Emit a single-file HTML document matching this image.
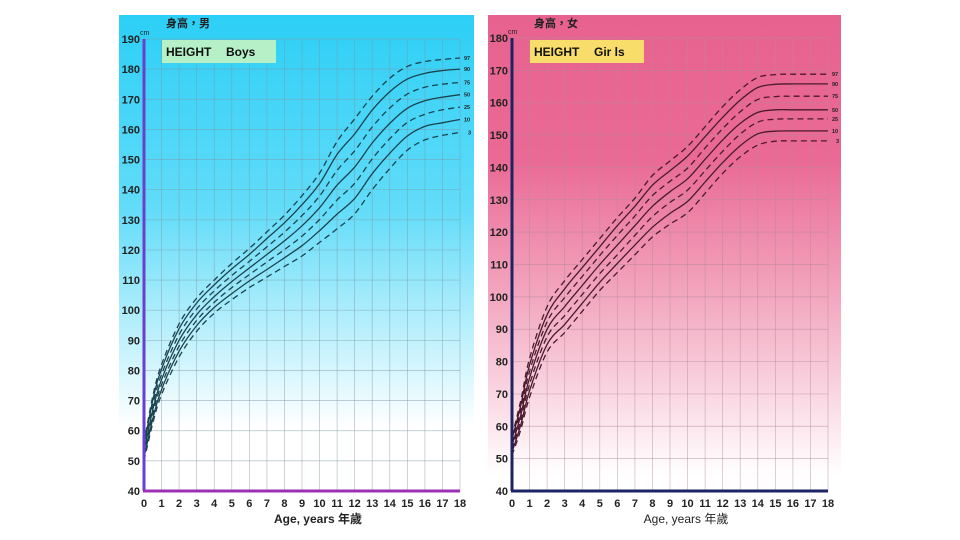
<!DOCTYPE html>
<html><head><meta charset="utf-8"><style>
body{margin:0;background:#fff;width:960px;height:540px;overflow:hidden}
svg{display:block;font-family:"Liberation Sans","Noto Sans CJK TC",sans-serif}
</style></head><body>
<svg id="c" width="960" height="540" viewBox="0 0 960 540">
<defs>
<linearGradient id="gb" x1="0" y1="0" x2="0" y2="1">
<stop offset="0" stop-color="#2ccff6"/><stop offset="0.4" stop-color="#62dcf9"/><stop offset="0.85" stop-color="#ffffff"/><stop offset="1" stop-color="#ffffff"/></linearGradient>
<linearGradient id="gg" x1="0" y1="0" x2="0" y2="1">
<stop offset="0" stop-color="#e8628f"/><stop offset="0.3" stop-color="#ea6a95"/><stop offset="0.6" stop-color="#f3abc2"/><stop offset="0.95" stop-color="#ffffff"/><stop offset="1" stop-color="#ffffff"/></linearGradient>
</defs>
</svg>
<script>
const ages=[0,0.5,1,2,3,4,5,6,7,8,9,10,11,12,13,14,15,16,17,18];
const pctLabels=["97","90","75","50","25","10","3"];
const boys97=[56,71.5,82,95.5,104,110,115.5,120.5,126,131.5,138,145.5,156,163.5,171,177,180.9,182.5,183.2,183.7];
const boys90=[55.1,70.2,80.5,93.9,102.4,108.4,113.7,118.5,123.8,129,135,142,151.7,158.5,166.4,172.5,176.7,178.6,179.5,180];
const boys75=[54,68.5,78.7,91.9,100.4,106.4,111.5,116.2,121,125.9,131.4,137.9,146.4,152.9,160.8,167.1,171.7,174,175,175.6];
const boys50=[53,67,77,90,98.5,104.5,109.5,114,118.5,123,128,134,141.5,147.5,155.5,162,167,169.5,170.7,171.5];
const boys25=[52,65.5,75.3,88.1,96.6,102.6,107.5,111.8,116,120.1,124.6,130.1,136.6,142.1,150.2,156.9,162.3,165,166.5,167.4];
const boys10=[51,64,73.7,86.4,94.9,100.9,105.5,109.7,113.5,117.4,121.4,126.4,131.9,137.1,145.3,152.1,157.8,161,162.2,163.3];
const boys3=[50,62.5,72,84.5,93,99,103.5,107.5,111,114.5,118,122.5,127,132,140,147,153.1,156.5,158,159];
const girls97=[57,68,81,97,105,111.5,118,124.5,130.5,137.5,142,146.5,152.6,158.8,164,167.8,168.7,168.8,168.8,168.8];
const girls90=[56,66.5,79,94.5,102.5,109,115.5,122,128,134.5,139,143.5,149.5,155.5,160.8,164.7,165.7,165.8,165.8,165.8];
const girls75=[55,65,77,92.3,99.8,106.3,112.8,119,125,131.3,135.7,139.8,146,152,157.2,161,161.9,162,162,162];
const girls50=[54,63.5,75,90,97,103.5,110,116,122,128,132.5,136.5,142.5,148.5,153.6,157,157.8,157.8,157.8,157.8];
const girls25=[53,62,73,87.7,94.2,100.7,107.2,113,119,124.8,129.2,133,139,145,150.3,154,154.9,155,155,155];
const girls10=[52,60.5,71,85.3,91.5,98,104.5,110.3,116,121.5,125.8,129.5,135.5,141.5,146.7,150.4,151.2,151.3,151.3,151.3];
const girls3=[51,59,69,83,89,95.5,102,107.5,113,118.5,122.5,126,132,138.2,143.3,146.9,148.1,148.2,148.2,148.2];
const boysTicks=[40,50,60,70,80,90,100,110,120,130,140,150,160,170,180,190];
const girlsTicks=[40,50,60,70,80,90,100,110,120,130,140,150,160,170,180];
const ageTicks=[0,1,2,3,4,5,6,7,8,9,10,11,12,13,14,15,16,17,18];

const NS="http://www.w3.org/2000/svg",svg=document.getElementById('c');
function mk(t,a,p){const e=document.createElementNS(NS,t);for(const k in a)e.setAttribute(k,a[k]);(p||svg).appendChild(e);return e;}
function path(xs,ys){
  const pts=xs.map((x,i)=>[x,ys[i]]);let d="M"+pts[0][0]+","+pts[0][1];
  for(let i=0;i<pts.length-1;i++){const p0=pts[Math.max(0,i-1)],p1=pts[i],p2=pts[i+1],p3=pts[Math.min(pts.length-1,i+2)];
    const c1=[p1[0]+(p2[0]-p0[0])/6,p1[1]+(p2[1]-p0[1])/6],c2=[p2[0]-(p3[0]-p1[0])/6,p2[1]-(p3[1]-p1[1])/6];
    d+=" C"+c1[0].toFixed(1)+","+c1[1].toFixed(1)+" "+c2[0].toFixed(1)+","+c2[1].toFixed(1)+" "+p2[0].toFixed(1)+","+p2[1].toFixed(1);}
  return d;}
function chart(o){
  const g=mk('g',{});
  
  
  const bg=mk('rect',{x:o.px,y:15,width:o.pw,height:485,fill:o.fill},g);
  
  
  const x0=o.x0,x1=o.x1,ymin=o.ticks[0],ymax=o.ticks[o.ticks.length-1],yt=o.yt,yb=491;
  const X=a=>x0+(a/18)*(x1-x0), Y=v=>yb-(v-ymin)/(ymax-ymin)*(yb-yt);
  ageTicks.forEach(a=>{const l=mk('line',{x1:X(a),x2:X(a),y1:yt,y2:yb,stroke:o.gc,'stroke-width':0.7,'stroke-opacity':0.6},g);
    
    const t=mk('text',{x:X(a),y:507,'text-anchor':'middle','font-size':11,'font-weight':'bold',fill:'#222'},g);t.textContent=a;
    });
  o.ticks.forEach(v=>{const l=mk('line',{x1:x0,x2:x1,y1:Y(v),y2:Y(v),stroke:o.gc,'stroke-width':0.7,'stroke-opacity':0.6},g);
    
    const t=mk('text',{x:x0-4,y:Y(v)+4,'text-anchor':'end','font-size':11,'font-weight':'bold',fill:'#222'},g);t.textContent=v;
    });
  o.series.forEach((s,i)=>{const p=mk('path',{d:path(ages.map(X),s.map(Y)),fill:'none',stroke:o.lc,'stroke-width':1.3,'stroke-dasharray':(i%2===0)?'6,4':'none'},g);
    
    const t=mk('text',{x:x1+4+(pctLabels[i]==="3"?4:0),y:Y(s[s.length-1])+2,'font-size':5.5,'font-weight':'bold',fill:'#222'},g);t.textContent=pctLabels[i];
    });
  const ya=mk('line',{x1:x0,x2:x0,y1:yt,y2:yb,stroke:o.ayc,'stroke-width':3},g);
  
  const xa=mk('line',{x1:x0-1,x2:x1,y1:yb,y2:yb,stroke:o.axc,'stroke-width':3},g);
  
  const cm=mk('text',{x:x0-4,y:yt-4,'font-size':7,fill:'#222'},g);cm.textContent='cm';
  
  const tt=mk('text',{x:x0+22,y:27,'font-size':11,'font-weight':'bold',fill:'#222'},g);tt.textContent=o.title;
  
  const bx=mk('rect',{x:x0+18,y:40,width:114,height:23,fill:o.boxc},g);
  
  const b1=mk('text',{x:x0+22,y:56,'font-size':12,'font-weight':'bold',fill:'#111'},g);b1.textContent='HEIGHT';
  
  const b2=mk('text',{x:x0+82,y:56,'font-size':12,'font-weight':'bold',fill:'#111'},g);b2.textContent=o.sex;
  
  const xt=mk('text',{x:(x0+x1)/2+16,y:523,'text-anchor':'middle','font-size':12,'font-weight':o.bold?'bold':'normal',fill:'#222'},g);xt.textContent='Age, years  年歲';
  
}
chart({name:'boys-height-chart',px:119,pw:355,fill:'url(#gb)',x0:144,x1:460,yt:39,ticks:boysTicks,gc:'#7f98a4',
  series:[boys97,boys90,boys75,boys50,boys25,boys10,boys3],lc:'#1a4450',ayc:'#6a3fd0',axc:'#9b2fb5',title:'身高，男',boxc:'#b5f0c6',sex:'Boys',bold:true});
chart({name:'girls-height-chart',px:488,pw:353,fill:'url(#gg)',x0:512,x1:828,yt:38,ticks:girlsTicks,gc:'#b08a9a',
  series:[girls97,girls90,girls75,girls50,girls25,girls10,girls3],lc:'#4a1a2e',ayc:'#1c2466',axc:'#1c2466',title:'身高，女',boxc:'#f9dd6a',sex:'Gir ls',bold:false});
</script>
</body></html>
